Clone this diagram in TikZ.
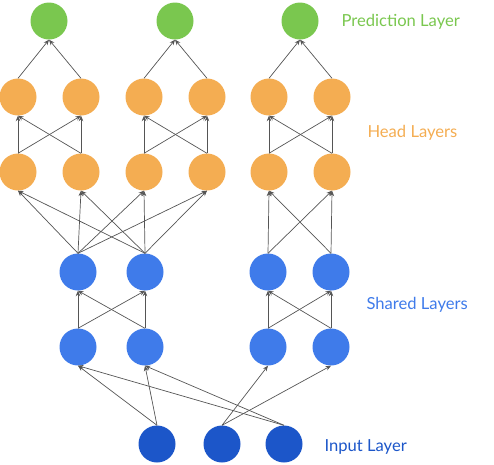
\documentclass[tikz,border=0pt]{standalone}
\usepackage{fontspec}
\setmainfont{Lato}
\usetikzlibrary{arrows.meta}
\definecolor{PredGreen}{HTML}{7AC74F}
\definecolor{HeadOrange}{HTML}{F4AD52}
\definecolor{SharedBlue}{HTML}{3F7BEA}
\definecolor{InputBlue}{HTML}{1C56C9}
\definecolor{EdgeGray}{HTML}{555555}

\begin{document}
\begin{tikzpicture}[x=1pt, y=-1pt,
            unit/.style={circle, minimum size=37pt, inner sep=0pt},
            pred/.style={unit, fill=PredGreen},
            head/.style={unit, fill=HeadOrange},
            shared/.style={unit, fill=SharedBlue},
            inp/.style={unit, fill=InputBlue},
            arrow/.style={-{Stealth[length=5.5pt, width=4.5pt]}, line width=0.7pt, EdgeGray},
            layerlabel/.style={anchor=west, font=\fontsize{16.6}{18}\selectfont}
        ]
            \useasboundingbox (0,0) rectangle (494,464);

            % Prediction layer
            \node[pred] (p1) at (49,21) {};
            \node[pred] (p2) at (175,21) {};
            \node[pred] (p3) at (300,21) {};

            % Head layers (upper and lower row)
            \node[head] (hu1) at (18,97) {};
            \node[head] (hu2) at (81,97) {};
            \node[head] (hu3) at (144,97) {};
            \node[head] (hu4) at (207,97) {};
            \node[head] (hu5) at (269,97) {};
            \node[head] (hu6) at (332,97) {};
            \node[head] (hl1) at (18,172) {};
            \node[head] (hl2) at (81,172) {};
            \node[head] (hl3) at (144,172) {};
            \node[head] (hl4) at (207,172) {};
            \node[head] (hl5) at (269,172) {};
            \node[head] (hl6) at (332,172) {};

            % Shared layers (two groups)
            \node[shared] (su1) at (78,272) {};
            \node[shared] (su2) at (145,272) {};
            \node[shared] (su3) at (268,272) {};
            \node[shared] (su4) at (331,272) {};
            \node[shared] (sl1) at (78,347) {};
            \node[shared] (sl2) at (145,347) {};
            \node[shared] (sl3) at (268,347) {};
            \node[shared] (sl4) at (331,347) {};

            % Input layer
            \node[inp] (in1) at (157,444) {};
            \node[inp] (in2) at (222,444) {};
            \node[inp] (in3) at (284,444) {};

            % Input -> shared
            \draw[arrow] (in1.north) -- (sl1.south);
            \draw[arrow] (in1.north) -- (sl2.south);
            \draw[arrow] (in3.north) -- (sl1.south);
            \draw[arrow] (in3.north) -- (sl2.south);
            \draw[arrow] (in2.north) -- (sl3.south);
            \draw[arrow] (in2.north) -- (sl4.south);

            % Shared lower -> shared upper
            \foreach \a/\b in {sl1/su1, sl1/su2, sl2/su1, sl2/su2,
                               sl3/su3, sl3/su4, sl4/su3, sl4/su4}
                \draw[arrow] (\a.north) -- (\b.south);

            % Shared -> heads
            \foreach \a in {su1, su2}
                \foreach \b in {hl1, hl2, hl3, hl4}
                    \draw[arrow] (\a.north) -- (\b.south);
            \foreach \a/\b in {su3/hl5, su3/hl6, su4/hl5, su4/hl6}
                \draw[arrow] (\a.north) -- (\b.south);

            % Head lower -> head upper
            \foreach \a/\b in {hl1/hu1, hl1/hu2, hl2/hu1, hl2/hu2,
                               hl3/hu3, hl3/hu4, hl4/hu3, hl4/hu4,
                               hl5/hu5, hl5/hu6, hl6/hu5, hl6/hu6}
                \draw[arrow] (\a.north) -- (\b.south);

            % Heads -> predictions
            \foreach \a/\b in {hu1/p1, hu2/p1, hu3/p2, hu4/p2, hu5/p3, hu6/p3}
                \draw[arrow] (\a.north) -- (\b.south);

            % Layer labels
            \node[layerlabel, PredGreen] (predlabel) at (338,22) {Prediction Layer};
            \node[layerlabel, HeadOrange] (headlabel) at (364,133) {Head Layers};
            \node[layerlabel, SharedBlue] (sharedlabel) at (363,305) {Shared Layers};
            \node[layerlabel, InputBlue] (inputlabel) at (321,447) {Input Layer};
        \end{tikzpicture}
\end{document}
